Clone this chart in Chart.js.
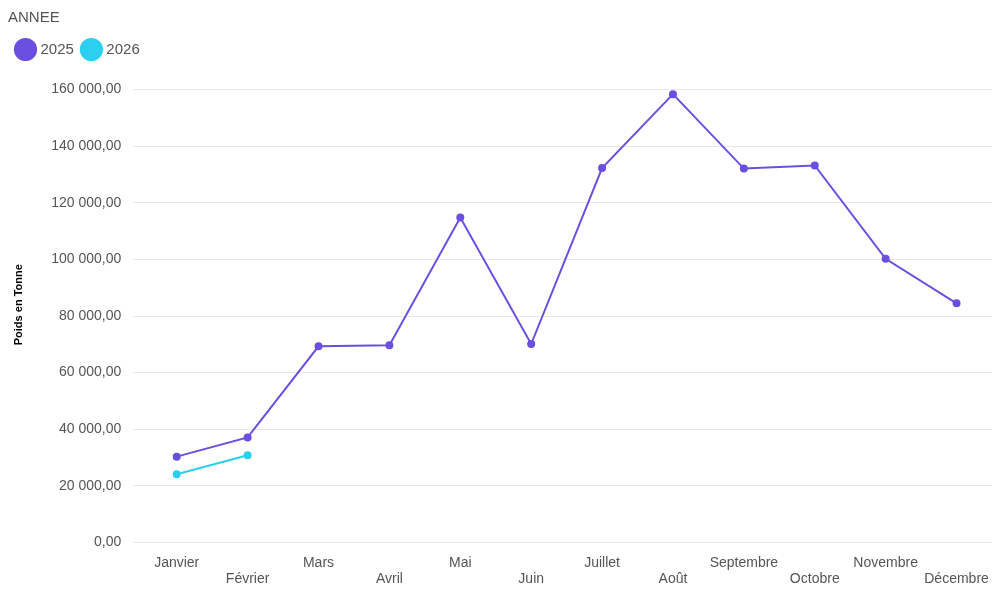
<!DOCTYPE html>
<html>
<head>
<meta charset="utf-8">
<script src="https://cdn.jsdelivr.net/npm/chart.js@4"></script>
<style>
  body { margin: 0; background: #fff; }
  #wrap { width: 1000px; height: 600px; }
</style>
</head>
<body>
<div id="wrap"><canvas id="chart"></canvas></div>
<script>
const months = ['Janvier', 'Février', 'Mars', 'Avril', 'Mai', 'Juin', 'Juillet', 'Août', 'Septembre', 'Octobre', 'Novembre', 'Décembre'];
const values2025 = [30300, 37100, 69300, 69700, 114800, 70100, 132300, 158400, 132100, 133200, 100200, 84500];
const values2026 = [24100, 30800];

// alternance des libellés sur deux lignes
const labels = months.map((m, i) => i % 2 === 0 ? [m, ''] : ['', m]);

function fmt(v) {
    const parts = v.toFixed(2).split('.');
    return parts[0].replace(/\B(?=(\d{3})+(?!\d))/g, ' ') + ',' + parts[1];
}

new Chart(document.getElementById('chart'), {
    type: 'line',
    data: {
        labels: labels,
        datasets: [
            { label: '2025', data: values2025, borderColor: '#6b4fe0', backgroundColor: '#6b4fe0', borderWidth: 2, pointRadius: 3, pointHoverRadius: 3 },
            { label: '2026', data: values2026, borderColor: '#2ccff0', backgroundColor: '#2ccff0', borderWidth: 2, pointRadius: 3, pointHoverRadius: 3 }
        ]
    },
    options: {
        responsive: true,
        maintainAspectRatio: false,
        animation: false,
        layout: { padding: { left: 8, right: 8, top: 10, bottom: 8 } },
        plugins: {
            legend: {
                position: 'top',
                align: 'start',
                title: { display: true, position: 'start', text: 'ANNEE', color: '#555', font: { family: 'Liberation Sans', size: 15 }, padding: { top: 0, bottom: 4 } },
                labels: { usePointStyle: true, pointStyle: 'circle', boxWidth: 17, boxHeight: 17, color: '#555', font: { family: 'Liberation Sans', size: 15 }, padding: 10 }
            },
            tooltip: { enabled: false }
        },
        scales: {
            x: {
                offset: true,
                grid: { display: false },
                border: { display: false },
                ticks: { autoSkip: false, maxRotation: 0, color: '#555', font: { family: 'Liberation Sans', size: 14 }, padding: 4 }
            },
            y: {
                min: 0,
                max: 168000,
                afterBuildTicks: axis => { axis.ticks = [0, 20000, 40000, 60000, 80000, 100000, 120000, 140000, 160000].map(v => ({ value: v })); },
                grid: { color: '#e8e8e8' },
                border: { display: false },
                title: { display: true, text: 'Poids en Tonne', color: '#000', font: { family: 'Liberation Sans', size: 11, weight: 'bold' }, padding: { bottom: 14 } },
                ticks: { color: '#555', font: { family: 'Liberation Sans', size: 14 }, padding: 12, callback: v => fmt(v) }
            }
        }
    }
});
</script>
</body>
</html>
